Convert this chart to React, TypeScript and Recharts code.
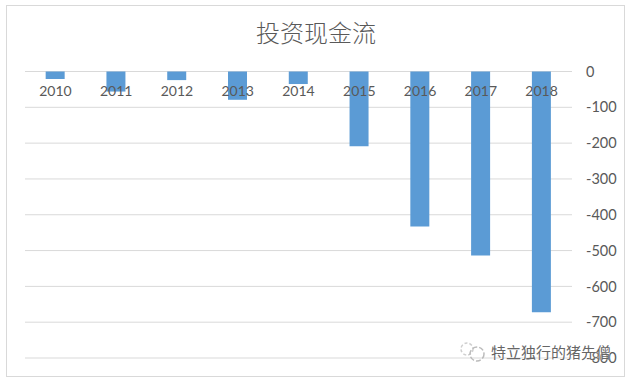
import { Bar, BarChart, CartesianGrid, XAxis, YAxis } from 'recharts';

const years = ['2010', '2011', '2012', '2013', '2014', '2015', '2016', '2017', '2018'];
const cashFlow = [-21, -56, -24, -79, -35, -209, -433, -514, -672];
const yTicks = [0, -100, -200, -300, -400, -500, -600, -700, -800];

const chartData = years.map((year, i) => ({ year, value: cashFlow[i] }));

const LABEL_FONT = 'Lato, "Open Sans", sans-serif';

const YearTick = ({ x, y, payload }: any) => (
  <text x={x} y={y + 32} textAnchor="middle" fontSize={14} fontFamily={LABEL_FONT} fill="#595959">
    {payload.value}
  </text>
);

export default function App() {
  return (
    <div style={{ position: 'absolute', left: 0, top: 0, width: 631, height: 380, background: '#fff', overflow: 'hidden' }}>
      <div style={{ position: 'absolute', left: 6, top: 5, width: 617, height: 370, border: '1px solid #d9d9d9' }} />
      <BarChart
        width={631}
        height={380}
        data={chartData}
        margin={{ top: 70.5, right: 19, bottom: 22, left: 25 }}
        barCategoryGap="34%"
        style={{ position: 'absolute', left: 0, top: 0 }}
      >
        <text x={316} y={42} textAnchor="middle" fontSize={24} fontWeight={300} fontFamily='"Noto Sans CJK SC"' fill="#595959">
          投资现金流
        </text>
        <CartesianGrid horizontal vertical={false} stroke="#d9d9d9" />
        <Bar dataKey="value" fill="#5b9bd5" isAnimationActive={false} />
        <YAxis
          orientation="right"
          width={40}
          domain={[-800, 0]}
          ticks={yTicks}
          interval={0}
          axisLine={false}
          tickLine={false}
          tickSize={0}
          tickMargin={14}
          tick={{ fontSize: 14.5, fontFamily: LABEL_FONT, fill: '#595959' }}
        />
        <XAxis
          dataKey="year"
          orientation="top"
          height={1}
          interval={0}
          axisLine={false}
          tickLine={false}
          tick={YearTick}
        />
      </BarChart>
      <svg width={40} height={24} style={{ position: 'absolute', left: 456, top: 340 }}>
        <circle cx={11} cy={9} r={6} fill="none" stroke="#cfcfcf" strokeWidth={1.5} strokeDasharray="3 2" />
        <circle cx={21} cy={14} r={7} fill="none" stroke="#bbbbbb" strokeWidth={1.5} strokeDasharray="5 2" />
      </svg>
      <div style={{ position: 'absolute', left: 491, top: 342, fontSize: 15, lineHeight: '20px', fontFamily: '"Noto Sans CJK SC"', color: '#666', whiteSpace: 'nowrap', textShadow: '0 0 2px #fff' }}>
        特立独行的猪先僧
      </div>
    </div>
  );
}
